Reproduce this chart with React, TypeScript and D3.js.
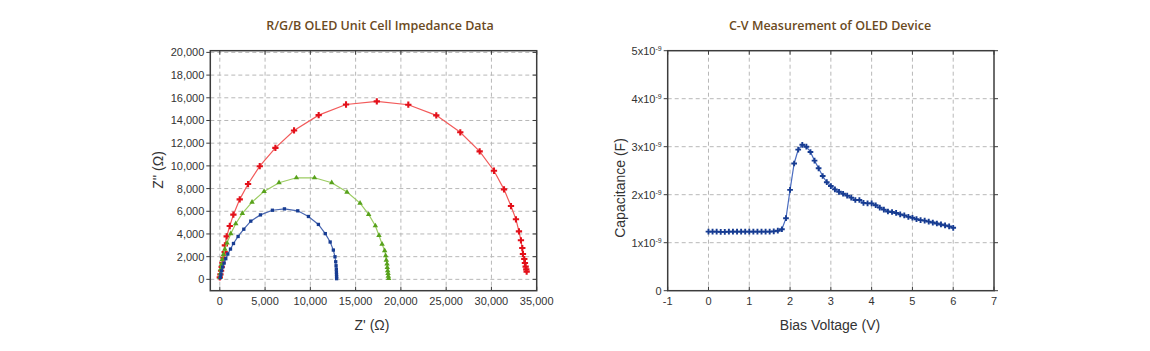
import React from 'react'
import * as d3 from 'd3'

// Nyquist data, [Z', Z''] in ohms
const redZ = [
  [0, 170], [70, 440], [140, 760], [210, 1100], [290, 1460], [400, 1900], [540, 2400], [560, 2990],
  [760, 3790], [1100, 4700], [1500, 5700], [2200, 7050], [3120, 8400], [4410, 9970], [6140, 11590],
  [8200, 13120], [10920, 14470], [13940, 15410], [17340, 15680], [20820, 15390], [23910, 14450],
  [26560, 12960], [28700, 11280], [30280, 9570], [31390, 7930], [32160, 6460], [32710, 5290],
  [33040, 4230], [33260, 3440], [33410, 2760], [33480, 2230], [33630, 1790], [33700, 1440],
  [33780, 1120], [33850, 880], [33890, 680],
]
const greenZ = [
  [20, 180], [50, 500], [100, 900], [170, 1300], [270, 1750], [400, 2200], [560, 2650], [800, 3200],
  [1210, 4020], [1760, 4900], [2490, 5810], [3560, 6810], [4890, 7750], [6540, 8510], [8460, 8950],
  [10460, 8950], [12360, 8510], [14050, 7690], [15490, 6720], [16440, 5720], [17180, 4720],
  [17580, 3870], [17920, 3110], [18210, 2520], [18320, 2080], [18390, 1700], [18470, 1350],
  [18500, 1050], [18540, 760], [18580, 520], [18610, 290], [18650, 80],
]
const blueZ = [
  [60, 150], [120, 420], [200, 750], [320, 1080], [470, 1430], [660, 1820], [880, 2230], [1180, 2670],
  [1510, 3160], [2020, 3780], [2650, 4420], [3420, 5130], [4490, 5680], [5810, 6090], [7140, 6210],
  [8610, 6040], [9790, 5540], [10890, 4840], [11650, 4030], [12190, 3290], [12540, 2580],
  [12720, 1990], [12800, 1550], [12840, 1200], [12870, 900], [12880, 650], [12890, 420],
  [12900, 220], [12900, 60],
]

// C-V data
const biasV = [
  0, 0.1, 0.2, 0.3, 0.4, 0.5, 0.6, 0.7, 0.8, 0.9, 1.0, 1.1, 1.2, 1.3, 1.4, 1.5, 1.6, 1.7, 1.8, 1.9,
  2.0, 2.1, 2.2, 2.3, 2.4, 2.5, 2.6, 2.7, 2.8, 2.9, 3.0, 3.1, 3.2, 3.3, 3.4, 3.5, 3.6, 3.7, 3.8, 3.9,
  4.0, 4.1, 4.2, 4.3, 4.4, 4.5, 4.6, 4.7, 4.8, 4.9, 5.0, 5.1, 5.2, 5.3, 5.4, 5.5, 5.6, 5.7, 5.8, 5.9,
  6.0,
]
// capacitance in nF (x1e-9 F)
const capNF = [
  1.23, 1.23, 1.23, 1.225, 1.225, 1.23, 1.23, 1.23, 1.23, 1.23, 1.23, 1.23, 1.23, 1.23, 1.23, 1.23,
  1.235, 1.25, 1.28, 1.51, 2.1, 2.65, 2.94, 3.04, 3.0, 2.89, 2.71, 2.55, 2.39, 2.26, 2.18, 2.11, 2.06,
  2.02, 1.98, 1.94, 1.89, 1.89, 1.83, 1.82, 1.82, 1.78, 1.73, 1.69, 1.65, 1.64, 1.62, 1.59, 1.57, 1.54,
  1.52, 1.49, 1.47, 1.46, 1.44, 1.42, 1.4, 1.38, 1.36, 1.34, 1.31,
]

const zTicksX = [0, 5000, 10000, 15000, 20000, 25000, 30000, 35000]
const zTicksY = [0, 2000, 4000, 6000, 8000, 10000, 12000, 14000, 16000, 18000, 20000]
const vTicks = [-1, 0, 1, 2, 3, 4, 5, 6, 7]
const cTicks = [0, 1, 2, 3, 4, 5]

const FONT = '"Liberation Sans", Arial, sans-serif'
const TITLE_FONT = '"Open Sans", "Noto Sans", sans-serif'
const TITLE_COLOR = '#6b4a22'
const GRID = '#b8b8b8'
const FRAME = '#3c3c3c'
const TICK_SIZE = 11
const fmt = d3.format(',')

const Frame = ({ x0, x1, y0, y1 }) => (
  <rect x={x0} y={y0} width={x1 - x0} height={y1 - y0} fill="none" stroke={FRAME} strokeWidth={1.5} />
)

const Series = ({ pts, sx, sy, line, marker, type, size }) => {
  const path = d3.line().x((d) => sx(d[0])).y((d) => sy(d[1]))(pts)
  const sym = d3.symbol().type(type).size(size)()
  return (
    <g>
      <path d={path} fill="none" stroke={line} strokeWidth={1.2} />
      {pts.map((d, i) => (
        <path key={i} d={sym} transform={`translate(${sx(d[0])},${sy(d[1])})`} fill={marker} />
      ))}
    </g>
  )
}

const ImpedanceChart = () => {
  const x = d3.scaleLinear().domain([-1050, 35000]).range([210.3, 536.7])
  const y = d3.scaleLinear().domain([-1000, 20150]).range([290.7, 50.7])
  const [x0, x1] = x.range()
  const [y1, y0] = y.range()
  return (
    <g>
      <text x={380} y={30} textAnchor="middle" fontFamily={TITLE_FONT} fontWeight={600} fontSize={12.5} fill={TITLE_COLOR}>
        R/G/B OLED Unit Cell Impedance Data
      </text>
      {zTicksX.filter((t) => t < 35000).map((t) => (
        <line key={t} x1={x(t)} x2={x(t)} y1={y0} y2={y1} stroke={GRID} strokeDasharray="4,3" />
      ))}
      {zTicksY.map((t) => (
        <line key={t} x1={x0} x2={x1} y1={y(t)} y2={y(t)} stroke={GRID} strokeDasharray="4,3" />
      ))}
      <Series pts={redZ} sx={x} sy={y} line="#f25a5a" marker="#e3101a" type={d3.symbolCross} size={22} />
      <Series pts={greenZ} sx={x} sy={y} line="#9ccc62" marker="#58a21c" type={d3.symbolTriangle} size={13} />
      <Series pts={blueZ} sx={x} sy={y} line="#4866b0" marker="#173c92" type={d3.symbolSquare} size={11} />
      <Frame x0={x0} x1={x1} y0={y0} y1={y1} />
      {zTicksY.map((t) => (
        <g key={t}>
          <line x1={x0 - 4} x2={x0} y1={y(t)} y2={y(t)} stroke={FRAME} />
          <line x1={x1 - 4} x2={x1} y1={y(t)} y2={y(t)} stroke={FRAME} />
          <text x={x0 - 6} y={y(t) + 4} textAnchor="end" fontFamily={FONT} fontSize={TICK_SIZE} fill="#333">
            {fmt(t)}
          </text>
        </g>
      ))}
      {zTicksX.map((t) => (
        <g key={t}>
          <line x1={x(t)} x2={x(t)} y1={y1} y2={y1 - 4} stroke={FRAME} />
          <line x1={x(t)} x2={x(t)} y1={y0} y2={y0 + 4} stroke={FRAME} />
          <text x={x(t)} y={305} textAnchor="middle" fontFamily={FONT} fontSize={TICK_SIZE} fill="#333">
            {fmt(t)}
          </text>
        </g>
      ))}
      <text x={372} y={330} textAnchor="middle" fontFamily={FONT} fontSize={14} fill="#333">
        Z' (Ω)
      </text>
      <text transform="translate(163,170) rotate(-90)" textAnchor="middle" fontFamily={FONT} fontSize={14} fill="#333">
        Z'' (Ω)
      </text>
    </g>
  )
}

const CVChart = () => {
  const x = d3.scaleLinear().domain([-1, 7]).range([667.7, 994])
  const y = d3.scaleLinear().domain([0, 5]).range([290.7, 50.7])
  const [x0, x1] = x.range()
  const [y1, y0] = y.range()
  const pts = biasV.map((v, i) => [v, capNF[i]])
  return (
    <g>
      <text x={830} y={30} textAnchor="middle" fontFamily={TITLE_FONT} fontWeight={600} fontSize={12.5} fill={TITLE_COLOR}>
        C-V Measurement of OLED Device
      </text>
      {vTicks.filter((t) => t > -1 && t < 7).map((t) => (
        <line key={t} x1={x(t)} x2={x(t)} y1={y0} y2={y1} stroke={GRID} strokeDasharray="4,3" />
      ))}
      {cTicks.filter((t) => t > 0 && t < 5).map((t) => (
        <line key={t} x1={x0} x2={x1} y1={y(t)} y2={y(t)} stroke={GRID} strokeDasharray="4,3" />
      ))}
      <Series pts={pts} sx={x} sy={y} line="#4a6cc0" marker="#173c92" type={d3.symbolCross} size={18} />
      <Frame x0={x0} x1={x1} y0={y0} y1={y1} />
      {cTicks.map((t) => (
        <g key={t}>
          <line x1={x0 - 4} x2={x0} y1={y(t)} y2={y(t)} stroke={FRAME} />
          <line x1={x1} x2={x1 + 4} y1={y(t)} y2={y(t)} stroke={FRAME} />
          <text x={x0 - 6} y={y(t) + 4} textAnchor="end" fontFamily={FONT} fontSize={TICK_SIZE} fill="#333">
            {t === 0 ? '0' : `${t}x10`}
            {t !== 0 && (
              <tspan dy={-4} fontSize={7}>
                -9
              </tspan>
            )}
          </text>
        </g>
      ))}
      {vTicks.map((t) => (
        <g key={t}>
          <line x1={x(t)} x2={x(t)} y1={y1} y2={y1 - 4} stroke={FRAME} />
          <line x1={x(t)} x2={x(t)} y1={y0} y2={y0 + 4} stroke={FRAME} />
          <text x={x(t)} y={305} textAnchor="middle" fontFamily={FONT} fontSize={TICK_SIZE} fill="#333">
            {t}
          </text>
        </g>
      ))}
      <text x={830} y={330} textAnchor="middle" fontFamily={FONT} fontSize={14} fill="#333">
        Bias Voltage (V)
      </text>
      <text transform="translate(625,188) rotate(-90)" textAnchor="middle" fontFamily={FONT} fontSize={14} fill="#333">
        Capacitance (F)
      </text>
    </g>
  )
}

export default function App() {
  return (
    <svg
      width={1150}
      height={351}
      viewBox="0 0 1150 351"
      style={{ position: 'absolute', left: 0, top: 0, background: '#fff' }}
    >
      <rect width={1150} height={351} fill="#fff" />
      <ImpedanceChart />
      <CVChart />
    </svg>
  )
}
